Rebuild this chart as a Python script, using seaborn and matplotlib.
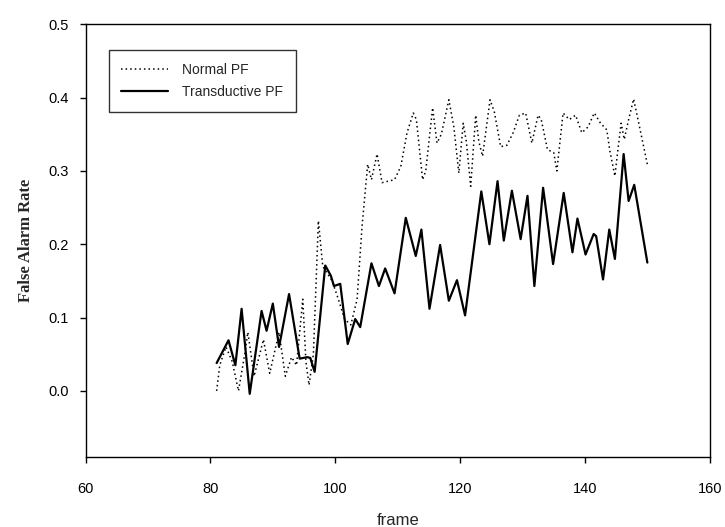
import matplotlib
matplotlib.use("Agg")
import matplotlib.pyplot as plt
import seaborn as sns
import pandas as pd

# Normal PF (dotted) - frame positions and false alarm rate
normal_frame = [81, 81.5, 82.5, 83.5, 84.5, 85.5, 86, 87, 88.5, 89.5, 91, 92, 93, 93.8,
                94.8, 95.3, 95.8, 96.5, 97.3, 98, 99.5, 100.5, 101.5, 102.5, 103.5, 104.3,
                105.2, 105.8, 106.7, 107.5, 108.5, 109.5, 110.5, 111.5, 112.5, 113, 114,
                114.5, 115.6, 116.3, 117, 118.2, 119, 119.8, 120.5, 121, 121.7, 122.5, 123,
                123.6, 124.8, 125.5, 126.5, 127.5, 128.5, 129.5, 130.5, 131.5, 132.5, 133,
                134, 135, 135.5, 136.5, 137.5, 138.5, 139.5, 140.5, 141.5, 142.5, 143.5,
                144, 144.8, 145.3, 145.8, 146.3, 147, 147.8, 148.5, 150]
normal_rate = [0.0, 0.035, 0.06, 0.04, 0.0, 0.05, 0.08, 0.02, 0.07, 0.024, 0.08, 0.02, 0.046,
               0.035, 0.125, 0.04, 0.008, 0.05, 0.232, 0.17, 0.15, 0.125, 0.098, 0.09, 0.125,
               0.225, 0.309, 0.288, 0.323, 0.284, 0.286, 0.288, 0.306, 0.352, 0.379, 0.37,
               0.288, 0.3, 0.386, 0.338, 0.35, 0.397, 0.36, 0.297, 0.365, 0.34, 0.279, 0.376,
               0.34, 0.32, 0.397, 0.38, 0.333, 0.335, 0.352, 0.376, 0.379, 0.338, 0.376, 0.37,
               0.329, 0.325, 0.30, 0.379, 0.37, 0.376, 0.352, 0.36, 0.379, 0.365, 0.356,
               0.327, 0.293, 0.33, 0.365, 0.343, 0.37, 0.398, 0.37, 0.309]

# Transductive PF (solid)
trans_frame = [81, 82.9, 84, 85, 86.3, 88.2, 89, 90, 91, 92.6, 94.3, 95.5, 96, 96.7, 98.4,
               99.3, 99.8, 100.8, 102, 103.2, 104, 105.8, 107, 108, 109.5, 111.3, 112.9,
               113.8, 115.1, 116.8, 118.2, 119.5, 120.8, 123.4, 124.7, 126, 127, 128.3,
               129.7, 130.8, 131.9, 133.3, 134.9, 136.6, 138, 138.8, 140.1, 141.4, 141.8,
               142.9, 143.9, 144.8, 146.2, 147, 147.9, 150]
trans_rate = [0.038, 0.069, 0.035, 0.112, -0.004, 0.109, 0.082, 0.119, 0.06, 0.132, 0.044,
              0.046, 0.045, 0.026, 0.171, 0.157, 0.143, 0.146, 0.064, 0.098, 0.087, 0.174,
              0.143, 0.167, 0.133, 0.236, 0.184, 0.22, 0.112, 0.199, 0.123, 0.151, 0.103,
              0.272, 0.2, 0.286, 0.205, 0.273, 0.207, 0.266, 0.143, 0.277, 0.173, 0.27,
              0.189, 0.235, 0.186, 0.214, 0.211, 0.152, 0.22, 0.18, 0.323, 0.259, 0.281,
              0.175]

x_ticks = [60, 80, 100, 120, 140, 160]
y_ticks = [0.0, 0.1, 0.2, 0.3, 0.4, 0.5]

sns.set_style("ticks")
plt.rcParams["font.family"] = ["Liberation Sans", "DejaVu Sans"]

fig = plt.figure(figsize=(7.25, 5.27), dpi=100)
ax = fig.add_axes([0.118, 0.133, 0.861, 0.821])

normal_df = pd.DataFrame({"frame": normal_frame, "rate": normal_rate})
trans_df = pd.DataFrame({"frame": trans_frame, "rate": trans_rate})

sns.lineplot(data=normal_df, x="frame", y="rate", ax=ax, color="black",
             linewidth=1.1, linestyle=(0, (1, 2)), label="Normal PF")
sns.lineplot(data=trans_df, x="frame", y="rate", ax=ax, color="black",
             linewidth=1.6, label="Transductive PF")

ax.set_xlim(60, 160)
ax.set_ylim(-0.09, 0.5)
ax.set_xticks(x_ticks)
ax.set_yticks(y_ticks)
ax.set_yticklabels([f"{v:.1f}" for v in y_ticks])
ax.tick_params(direction="out", length=4, width=1, labelsize=10.5, colors="black")
ax.tick_params(axis="x", pad=14)
ax.tick_params(axis="y", pad=8)

for side in ["top", "right", "bottom", "left"]:
    ax.spines[side].set_visible(True)
    ax.spines[side].set_color("black")
    ax.spines[side].set_linewidth(1)

ax.set_xlabel("frame", fontsize=12, labelpad=12)
ax.set_ylabel("False Alarm Rate", fontsize=12, fontweight="bold",
              family=["Liberation Serif", "DejaVu Serif"], labelpad=10)

leg = ax.legend(loc="upper left", bbox_to_anchor=(0.037, 0.94), borderaxespad=0,
                fontsize=10, frameon=True, fancybox=False, handlelength=3.4,
                borderpad=0.9, labelspacing=0.6, handletextpad=1.0)
leg.get_frame().set_edgecolor("black")
leg.get_frame().set_linewidth(1)

fig.savefig("out.png", dpi=100)
